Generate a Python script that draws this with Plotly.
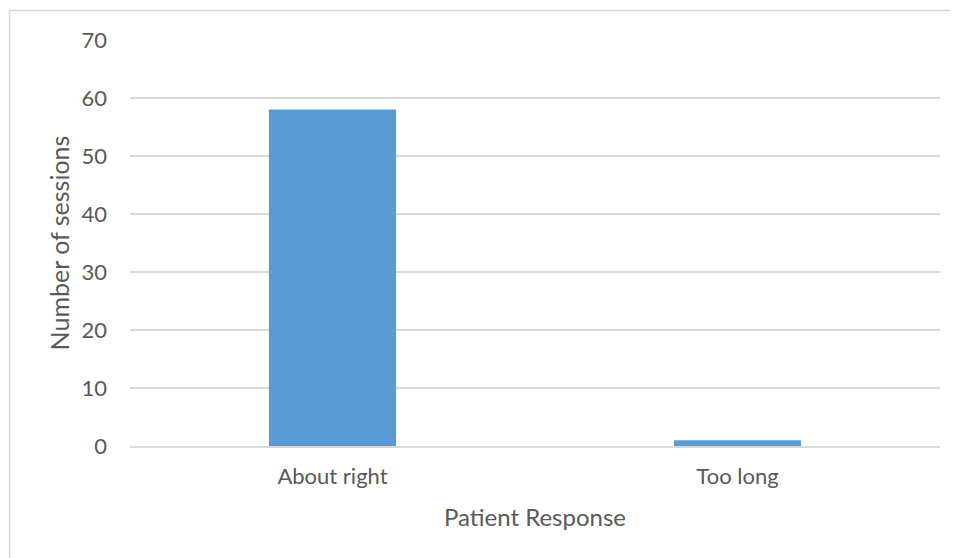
import plotly.graph_objects as go

categories = ["About right", "Too long"]
sessions = [58, 1]
y_ticks = [0, 10, 20, 30, 40, 50, 60, 70]

FONT = "Lato"
TXT = "#595959"
GRID = "#D9D9D9"

fig = go.Figure(go.Bar(x=categories, y=sessions, marker=dict(color="#5B9BD5", line=dict(width=0)),
                       width=0.314))

# page has an 8px body margin; figure is sized so it ends at the window edge
W, H = 950, 550
L, R, T, B = 122, 18, 32, 112
pw, ph = W - L - R, H - T - B

def px(x):
    return (x - L) / pw

def py(y):
    return (H - B - y) / ph

fig.update_layout(
    width=W, height=H,
    margin=dict(l=L, r=R, t=T, b=B, autoexpand=False),
    paper_bgcolor="white", plot_bgcolor="white",
    font=dict(family=FONT, color=TXT, size=22),
    showlegend=False,
    xaxis=dict(
        showgrid=False, showline=True, linecolor=GRID, linewidth=1.5,
        ticks="", ticklabelstandoff=10,
        tickfont=dict(size=22, color=TXT, family=FONT),
        title=dict(text="Patient Response", font=dict(size=24, color=TXT, family=FONT), standoff=21),
    ),
    yaxis=dict(
        range=[0, 70], tickvals=y_ticks, showgrid=True, gridcolor=GRID, gridwidth=1.5,
        zeroline=False, showline=False, ticks="", ticklabelstandoff=22,
        tickfont=dict(size=22, color=TXT, family=FONT),
        title=dict(text="Number of sessions", font=dict(size=25, color=TXT, family=FONT), standoff=4),
    ),
    shapes=[
        dict(type="line", xref="paper", yref="paper", x0=px(1.5), x1=px(1.5), y0=py(2.5), y1=py(H),
             line=dict(color=GRID, width=1.5)),
        dict(type="line", xref="paper", yref="paper", x0=px(1), x1=px(W), y0=py(2.5), y1=py(2.5),
             line=dict(color=GRID, width=1.5)),
    ],
)

fig.write_html("out.html")
